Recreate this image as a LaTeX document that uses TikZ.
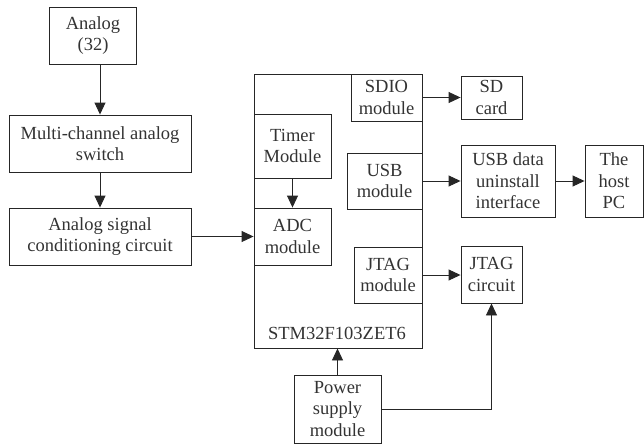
\documentclass[tikz,border=0pt]{standalone}
\usepackage{fontspec}
\setmainfont{Liberation Serif}
\usetikzlibrary{arrows.meta}
\begin{document}
\begin{tikzpicture}[x=1pt,y=-1pt,
  box/.style={draw=black!85,line width=0.9pt,inner sep=0pt,align=center,
    font=\fontsize{18.5}{21.5}\selectfont,text=black!80},
  lbl/.style={inner sep=0pt,font=\fontsize{18.5}{21.5}\selectfont,text=black!80},
  arr/.style={draw=black!85,line width=0.9pt,-{Triangle[length=12pt,width=11pt]}}]
\useasboundingbox (0,0) rectangle (644,444);
\node[box,minimum width=87pt,minimum height=57pt] (analog) at (93,35.5) {Analog\\(32)};
\node[box,minimum width=182pt,minimum height=57pt] (multi) at (100,143.5) {Multi-channel analog\\switch};
\node[box,minimum width=182pt,minimum height=57pt] (cond) at (100,236.5) {Analog signal\\conditioning circuit};
\node[box,minimum width=168pt,minimum height=274pt] (mcu) at (338,211) {};
\node[lbl] (mculbl) at (337,333) {STM32F103ZET6};
\node[box,minimum width=71pt,minimum height=47pt] (sdio) at (386.5,97.5) {SDIO\\module};
\node[box,minimum width=77pt,minimum height=64pt] (timer) at (292.5,146) {Timer\\Module};
\node[box,minimum width=77pt,minimum height=57pt] (adc) at (292.5,236.5) {ADC\\module};
\node[box,minimum width=75pt,minimum height=56pt] (usbm) at (384.5,181) {USB\\module};
\node[box,minimum width=68pt,minimum height=56pt] (jtagm) at (388,275) {JTAG\\module};
\node[box,minimum width=61pt,minimum height=43pt] (sd) at (491.5,97.5) {SD\\card};
\node[box,minimum width=94pt,minimum height=72pt] (usbd) at (508,181) {USB data\\uninstall\\interface};
\node[box,minimum width=58pt,minimum height=72pt] (host) at (614,181) {The\\host\\PC};
\node[box,minimum width=61pt,minimum height=57pt] (jtagc) at (491.5,274.5) {JTAG\\circuit};
\node[box,minimum width=87pt,minimum height=68pt] (power) at (337.5,409) {Power\\supply\\module};
\draw[arr] (multi.north |- analog.south) -- (multi.north);
\draw[arr] (multi) -- (cond);
\draw[arr] (cond) -- (adc);
\draw[arr] (timer) -- (adc);
\draw[arr] (sdio) -- (sd);
\draw[arr] (usbm) -- (usbd);
\draw[arr] (usbd) -- (host);
\draw[arr] (jtagm.east) -- (jtagc.west |- jtagm.east);
\draw[arr] (power) -- (mcu.south -| power.north);
\draw[arr] (power.east) -| (jtagc.south);
\end{tikzpicture}
\end{document}
